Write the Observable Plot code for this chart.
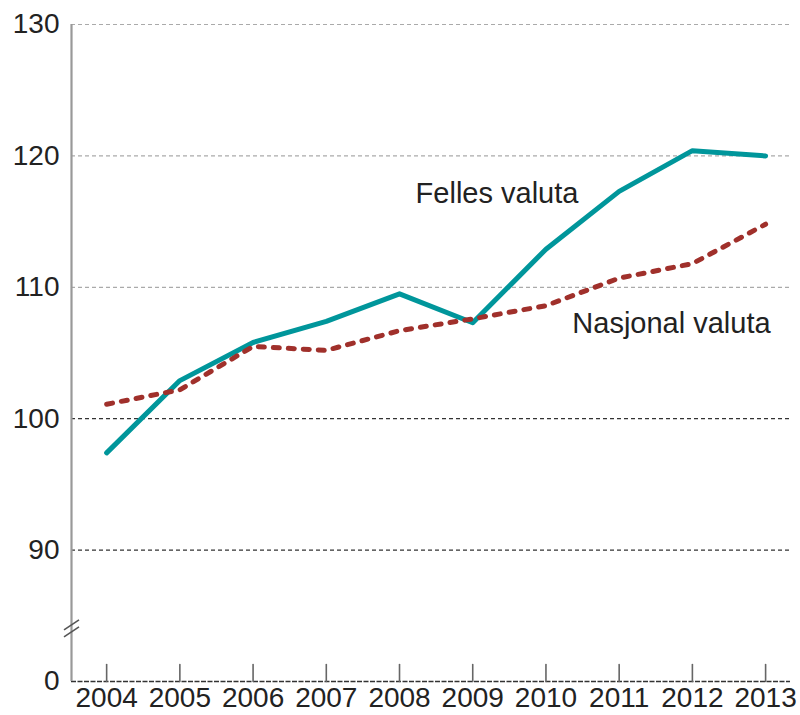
<!DOCTYPE html>
<html><head><meta charset="utf-8">
<script src="https://cdn.jsdelivr.net/npm/d3@7"></script>
<script src="https://cdn.jsdelivr.net/npm/@observablehq/plot@0.6"></script>
<style>body{margin:0;background:#fff;} #chart svg{display:block;}</style>
</head><body><div id="chart"></div>
<script>
const years = [2004, 2005, 2006, 2007, 2008, 2009, 2010, 2011, 2012, 2013];
const felles = [97.4, 102.9, 105.8, 107.4, 109.5, 107.3, 112.9, 117.3, 120.4, 120.0];
const nasjonal = [101.1, 102.2, 105.5, 105.2, 106.7, 107.6, 108.6, 110.7, 111.8, 114.8];
const yTicks = [80, 90, 100, 110, 120, 130];
const yTickLabels = ["0", "90", "100", "110", "120", "130"];
const gridLight = [110, 120, 130];
const gridDark = [90, 100];
const seriesNames = ["Felles valuta", "Nasjonal valuta"];

const fellesRows = years.map((yr, i) => ({year: yr, value: felles[i]}));
const nasjonalRows = years.map((yr, i) => ({year: yr, value: nasjonal[i]}));
const labels = [
  {x: 2008.22, y: 117.1, text: seriesNames[0]},
  {x: 2010.36, y: 107.2, text: seriesNames[1]}
];

const xDomain = [2003.52, 2013.34];
const ns = "http://www.w3.org/2000/svg";

function breakMark(index, scales) {
  const g = document.createElementNS(ns, "g");
  const x0 = scales.x(xDomain[0]);
  const y0 = scales.y(84);
  for (const off of [-3.5, 3.5]) {
    const l = document.createElementNS(ns, "line");
    l.setAttribute("x1", x0 - 7);
    l.setAttribute("y1", y0 + off + 5);
    l.setAttribute("x2", x0 + 8);
    l.setAttribute("y2", y0 + off - 5);
    l.setAttribute("stroke", "#555");
    l.setAttribute("stroke-width", 1.6);
    g.appendChild(l);
  }
  return g;
}

const tickShape = {draw(context, l) { context.moveTo(0, 0); context.lineTo(0, -l); }};

const chart = Plot.plot({
  width: 800,
  height: 715,
  marginLeft: 71,
  marginRight: 10,
  marginTop: 24,
  marginBottom: 34,
  style: {fontFamily: "'Liberation Sans', Arial, sans-serif", fontSize: "28px", color: "#222", background: "#fff"},
  x: {type: "linear", domain: xDomain},
  y: {domain: [80, 130]},
  marks: [
    Plot.ruleY(gridLight, {stroke: "#aaa", strokeWidth: 1.2, strokeDasharray: "4,3"}),
    Plot.ruleY(gridDark, {stroke: "#333", strokeWidth: 1.3, strokeDasharray: "4,3"}),
    Plot.ruleY([80], {stroke: "#333", strokeWidth: 1.5, strokeDasharray: "5,1.5"}),
    Plot.vector(years, {x: d => d, y: 80, length: 17, rotate: 0, anchor: "start", shape: tickShape, stroke: "#666", strokeWidth: 1.6}),
    Plot.ruleX([xDomain[0]], {stroke: "#999", strokeWidth: 2.2}),
    breakMark,
    Plot.axisY({ticks: yTicks, tickSize: 0, tickPadding: 12, tickFormat: d => yTickLabels[yTicks.indexOf(d)], fontSize: 28}),
    Plot.axisX({ticks: years, tickSize: 0, tickPadding: 6, tickFormat: d => String(d), fontSize: 28}),
    Plot.line(fellesRows, {x: "year", y: "value", stroke: "#00969b", strokeWidth: 5, strokeLinejoin: "round"}),
    Plot.line(nasjonalRows, {x: "year", y: "value", stroke: "#a0302b", strokeWidth: 5, strokeDasharray: "6,9", strokeLinecap: "round", strokeLinejoin: "round"}),
    Plot.text(labels, {x: "x", y: "y", text: "text", textAnchor: "start", fontSize: 29, fill: "#222"})
  ]
});
document.getElementById("chart").appendChild(chart);
</script>
</body></html>
